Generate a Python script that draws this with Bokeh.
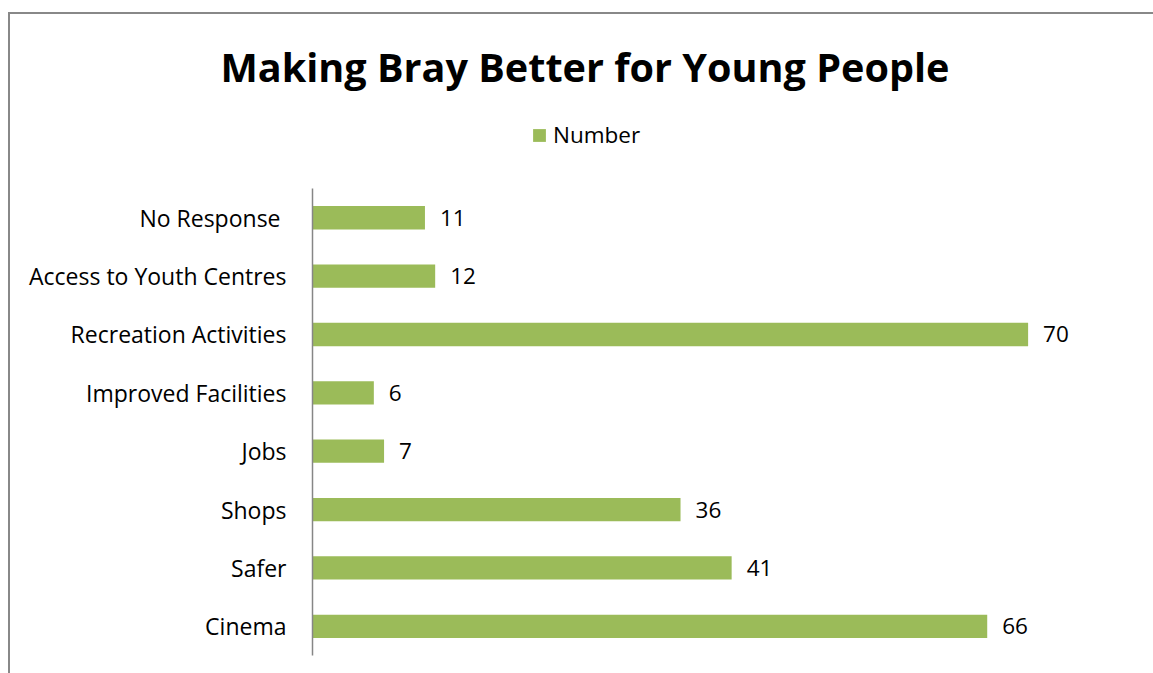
from bokeh.plotting import figure
from bokeh.models import ColumnDataSource, Range1d, LabelSet, Legend, LegendItem, FixedTicker
from bokeh.core.properties import value
from bokeh.embed import file_html
from bokeh.resources import INLINE

categories = ["Cinema", "Safer", "Shops", "Jobs", "Improved Facilities",
              "Recreation Activities", "Access to Youth Centres", "No Response "]
values = [66, 41, 36, 7, 6, 70, 12, 11]
series_name = "Number"
title_text = "Making Bray Better for Young People"

FONT = "Open Sans"
GREEN = "#9BBB59"
GRAY = "#868686"

pos = list(range(len(categories)))
src = ColumnDataSource(dict(pos=pos, cat=categories, val=values, txt=[str(v) for v in values]))

p = figure(width=1145, height=661, output_backend="svg", toolbar_location=None,
           title=title_text,
           y_range=Range1d(-0.5, 9.008),
           x_range=Range1d(0, 80.7),
           min_border_left=302, min_border_top=86, min_border_bottom=20, min_border_right=18,
           outline_line_color=None)
p.styles = {"margin-left": "8px", "margin-top": "12px",
            "border-left": "2px solid #888888", "border-top": "2px solid #888888"}

p.title.align = "left"
p.title.offset = -92
p.title.text_font = FONT
p.title.text_font_style = "bold"
p.title.text_font_size = "39.6px"
p.title.text_color = "#000000"
p.title.standoff = 14

r = p.hbar(y="pos", right="val", left=0, height=0.4, source=src,
           fill_color=GREEN, line_color=None)

p.xaxis.visible = False
p.xgrid.visible = False
p.ygrid.visible = False
p.yaxis.ticker = FixedTicker(ticks=pos)
p.yaxis.major_label_overrides = {i: c for i, c in zip(pos, categories)}
p.yaxis.bounds = (-0.5, len(categories) - 0.5)
p.yaxis.axis_line_color = GRAY
p.yaxis.axis_line_width = 1.5
p.yaxis.major_tick_line_color = None
p.yaxis.minor_tick_line_color = None
p.yaxis.major_label_text_font = FONT
p.yaxis.major_label_text_font_size = "23px"
p.yaxis.major_label_text_color = "#000000"
p.yaxis.major_label_standoff = 20

labels = LabelSet(x="val", y="pos", text="txt", source=src, x_offset=15,
                  text_baseline="middle", text_font=value(FONT), text_font_size=value("22.5px"),
                  text_color="#000000")
p.add_layout(labels)

legend = Legend(items=[LegendItem(label=series_name, renderers=[r])],
                location=(219, 505), glyph_width=16, glyph_height=16,
                label_standoff=6, padding=0, spacing=0, margin=0,
                border_line_color=None, background_fill_alpha=0,
                label_text_font=FONT, label_text_font_size="22.5px", label_height=16,
                label_text_color="#000000")
p.add_layout(legend, "center")

open("out.html", "w").write(file_html(p, INLINE))
